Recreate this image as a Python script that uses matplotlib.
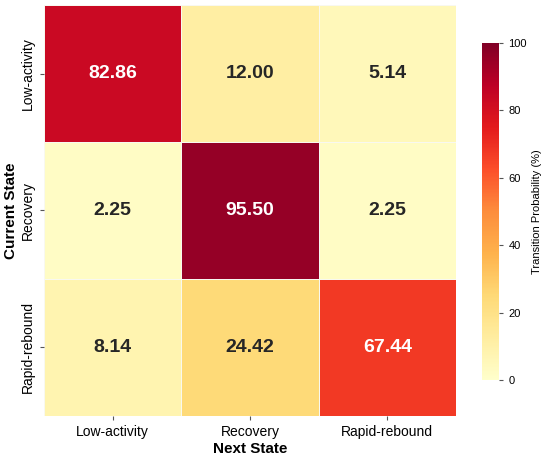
import numpy as np
import matplotlib
matplotlib.use("Agg")
import matplotlib.pyplot as plt
import seaborn as sns

plt.rcParams['font.family'] = ['Liberation Sans', 'DejaVu Sans']

# transition matrix (%)
states = ['Low-activity', 'Recovery', 'Rapid-rebound']
probs = np.array([
    [82.86, 12.00, 5.14],
    [2.25, 95.50, 2.25],
    [8.14, 24.42, 67.44],
])

fig = plt.figure(figsize=(5.5, 4.58), dpi=100)
ax = fig.add_axes([0.08, 0.092, 0.749, 0.897])
cax = fig.add_axes([0.876, 0.170, 0.032, 0.737])

sns.heatmap(probs, ax=ax, cbar_ax=cax, cmap='YlOrRd', vmin=0, vmax=100,
            annot=True, fmt='.2f', linewidths=0.5, linecolor='#f8f8f0',
            xticklabels=states, yticklabels=states,
            annot_kws={'fontsize': 14, 'fontweight': 'bold'})

ax.set_xlabel('Next State', fontsize=11, fontweight='bold', labelpad=2)
ax.set_ylabel('Current State', fontsize=11, fontweight='bold', labelpad=2)
ax.tick_params(axis='both', labelsize=10, length=3, color='#555555')
plt.setp(ax.get_yticklabels(), rotation=90, va='center')

cb = ax.collections[0].colorbar
cb.outline.set_visible(False)
cb.ax.tick_params(labelsize=8, length=3, color='#555555')
cb.set_label('Transition Probability (%)', fontsize=8)

fig.savefig('out.png', dpi=100)
